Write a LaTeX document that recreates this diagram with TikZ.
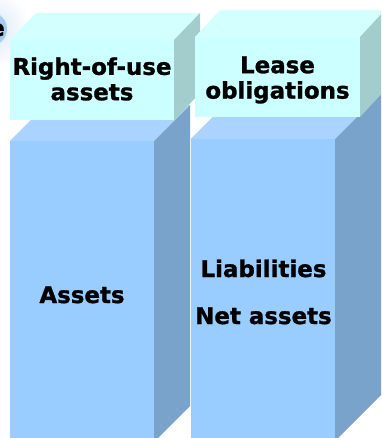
\documentclass[tikz,border=0pt]{standalone}
\usepackage{fontspec}
\setmainfont{DejaVu Sans}[BoldFeatures={FakeBold=1.2}]
\definecolor{cyanfront}{HTML}{CCFFFF}
\definecolor{cyantop}{HTML}{D4FFFF}
\definecolor{cyanside}{HTML}{A3CCCC}
\definecolor{bluefront}{HTML}{99CCFF}
\definecolor{bluetop}{HTML}{AAD4FF}
\definecolor{blueside}{HTML}{7AA3CC}
\definecolor{badge}{HTML}{A6CCF2}
\definecolor{halo}{HTML}{D6E6F7}
% #1,#2: front top-left; #3,#4: front bottom-right; #5,#6: depth; #7: colour prefix
\newcommand{\prism}[7]{%
  \fill[#7front] (#1,#2) rectangle (#3,#4);
  \fill[#7top] (#1,#2) -- (#1+#5,#2-#6) -- (#3+#5,#2-#6) -- (#3,#2) -- cycle;
  \fill[#7side] (#3,#2) -- (#3+#5,#2-#6) -- (#3+#5,#4-#6) -- (#3,#4) -- cycle;
}
\begin{document}
\begin{tikzpicture}[x=1bp,y=-1bp,
  label/.style={font=\fontsize{23}{25.5}\selectfont\bfseries, inner sep=0pt, align=center}]
\useasboundingbox (0,0) rectangle (381,438);
\begin{scope}
  \clip (0,0) rectangle (381,438);
  % soft halo behind the round badge
  \shade[inner color=halo, outer color=white] (-10,29) circle (40);
  \fill[badge] (-10,29) circle (17);
  \node[label, anchor=base east, inner sep=0pt] (badgetext) at (5,36) {e};
  % lower blocks
  \prism{10}{141}{154}{442}{36}{36}{blue}
  \prism{190.7}{139}{335}{441}{48}{48}{blue}
  % upper blocks
  \prism{10}{40}{174}{120}{26}{27}{cyan}
  \prism{195}{37}{360}{117}{25}{27}{cyan}
\end{scope}
\node[label] (rou) at (92,79) {Right-of-use\\assets};
\node[label] (lease) at (277.5,80) {Lease\\obligations};
\node[label, anchor=base] (assets) at (82,303) {Assets};
\node[label, anchor=base] (liab) at (263.5,277) {Liabilities};
\node[label, anchor=base] (net) at (263.5,324) {Net assets};
\end{tikzpicture}
\end{document}
